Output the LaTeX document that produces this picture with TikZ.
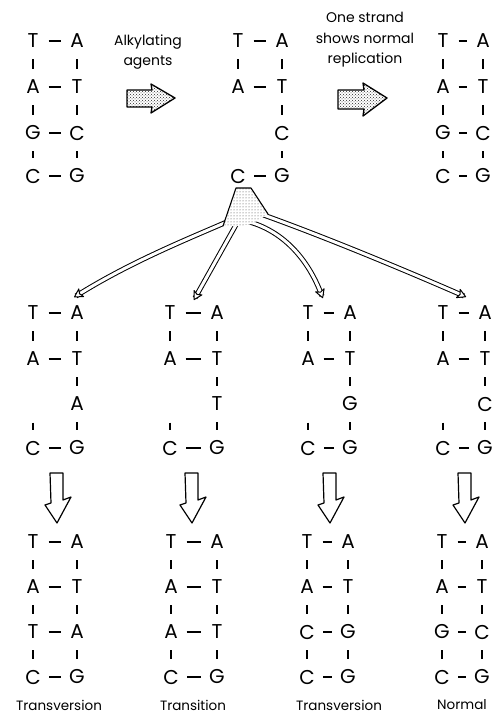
\documentclass[tikz,border=0pt]{standalone}
\usepackage{fontspec}
\setmainfont{Poppins}
\usetikzlibrary{patterns,decorations.markings,calc}
\begin{document}
\begin{tikzpicture}[x=1pt,y=-1pt,
  base/.style={font=\fontsize{20}{24}\selectfont, inner sep=0pt, minimum width=14pt, minimum height=14pt},
  lab/.style={font=\fontsize{14}{20.5}\selectfont, inner sep=0pt, align=center},
  blab/.style={font=\fontsize{13.5}{16}\selectfont, inner sep=0pt},
  hb/.style={line width=1.5pt, shorten <=8.5pt, shorten >=8.5pt},
  tick/.style={line width=1.4pt, shorten <=11pt, shorten >=11pt},
  fat/.style={line width=1.3pt, pattern=crosshatch dots, pattern color=black!85, line join=round},
  hollow/.style={line width=1.2pt, fill=white, line join=round},
  tipmark/.style={postaction={decorate},
    decoration={markings, mark=at position 0.999 with {\draw[line width=1pt, fill=white, line join=round] (2,0) -- (-6,4.5) -- (-4,0) -- (-6,-4.5) -- cycle;}}},
  band/.style={line width=1pt, double=white, double distance=3pt}]
\useasboundingbox (0,0) rectangle (495,717);

% ---------- tier 1 ----------
\foreach \p/\xl/\xr in {pa/33/77, pc/443/483} {
  \foreach \l/\r/\y [count=\i] in {T/A/41, A/T/87, G/C/133, C/G/176} {
    \node[base] (\p L\i) at (\xl,\y) {\l};
    \node[base] (\p R\i) at (\xr,\y) {\r};
    \draw[hb] (\p L\i) -- (\p R\i);
  }
  \foreach \i/\j in {1/2,2/3,3/4} {
    \draw[tick] (\p L\i) -- (\p L\j);
    \draw[tick] (\p R\i) -- (\p R\j);
  }
}
% middle column of tier 1
\node[base] (pbL1) at (238,41) {T}; \node[base] (pbR1) at (282,41) {A};
\node[base] (pbL2) at (238,87) {A}; \node[base] (pbR2) at (282,87) {T};
\node[base] (pbR3) at (282,133) {C};
\node[base] (pbL4) at (238,176) {C}; \node[base] (pbR4) at (282,176) {G};
\draw[hb] (pbL1) -- (pbR1);
\draw[hb] (pbL2) -- (pbR2);
\draw[hb] (pbL4) -- (pbR4);
\draw[tick] (pbL1) -- (pbL2);
\draw[tick] (pbR1) -- (pbR2);
\draw[tick] (pbR2) -- (pbR3);
\draw[tick] (pbR3) -- (pbR4);

% labels and fat arrows
\node[lab] (alk) at (148,52) {Alkylating\\agents};
\node[lab] (one) at (365,40) {One strand\\shows normal\\replication};
\draw[fat] (127,90) -- (152,90) -- (151,84) -- (175,98) -- (151,113) -- (152,107) -- (127,107) -- cycle;
\draw[fat] (338,90) -- (364,90) -- (363,83) -- (387,98) -- (363,116) -- (364,109) -- (338,109) -- cycle;

% ---------- branches ----------
\coordinate (s1) at (229,221);
\coordinate (s2) at (237,223);
\coordinate (s3) at (246,221);
\coordinate (s4) at (258,213);
\coordinate (e1) at (76,296);
\coordinate (e2) at (195,298);
\coordinate (e3) at (322,296);
\coordinate (e4) at (464,296);
\draw[band] (s1) .. controls (190,238) and (130,262) .. (e1);
\draw[band] (s2) -- (e2);
\draw[band] (s3) .. controls (282,230) and (308,258) .. (e3);
\draw[band] (s4) .. controls (320,235) and (400,268) .. (e4);
\path[tipmark] (s1) .. controls (190,238) and (130,262) .. (e1);
\path[tipmark] (s2) -- (e2);
\path[tipmark] (s3) .. controls (282,230) and (308,258) .. (e3);
\path[tipmark] (s4) .. controls (320,235) and (400,268) .. (e4);
\fill[white] (236,188) -- (251,188) -- (268,214) -- (252,224) -- (238,226) -- (223,226) -- cycle;
\fill[pattern=dots, pattern color=black!75] (236,188) -- (251,188) -- (268,214) -- (252,224) -- (238,226) -- (223,226) -- cycle;
\draw[line width=1.1pt, line join=round] (223,226) -- (236,188) -- (251,188) -- (268,214);

% ---------- tier 2 ----------
\foreach \p/\xl/\xr/\m in {ma/33/77/A, mb/170/217/T, mc/308/350/G, md/443/485/C} {
  \node[base] (\p L1) at (\xl,313) {T}; \node[base] (\p R1) at (\xr,313) {A};
  \node[base] (\p L2) at (\xl,359) {A}; \node[base] (\p R2) at (\xr,359) {T};
  \coordinate (\p L3) at (\xl,404);     \node[base] (\p R3) at (\xr,404) {\m};
  \node[base] (\p L4) at (\xl,448) {C}; \node[base] (\p R4) at (\xr,448) {G};
  \draw[hb] (\p L1) -- (\p R1);
  \draw[hb] (\p L2) -- (\p R2);
  \draw[hb] (\p L4) -- (\p R4);
  \draw[tick] (\p L1) -- (\p L2);
  \draw[tick, shorten <=18.5pt] (\p L3) -- (\p L4);
  \draw[tick] (\p R1) -- (\p R2);
  \draw[tick] (\p R2) -- (\p R3);
  \draw[tick] (\p R3) -- (\p R4);
}

% hollow down arrows
\foreach \x in {57,192,330,465} {
  \draw[hollow] (\x-7,473) -- (\x+6,473) -- (\x+6,500) -- (\x+14,497) -- (\x,523) -- (\x-12,505) -- (\x-6,503) -- cycle;
}

% ---------- tier 3 ----------
\foreach \p/\xl/\xr/\a/\b in {ra/33/77/T/A, rb/171/217/A/T, rc/307/348/C/G, rd/442/482/G/C} {
  \foreach \l/\r/\y [count=\i] in {T/A/542, A/T/587, \a/\b/632, C/G/677} {
    \node[base] (\p L\i) at (\xl,\y) {\l};
    \node[base] (\p R\i) at (\xr,\y) {\r};
    \draw[hb] (\p L\i) -- (\p R\i);
  }
  \foreach \i/\j in {1/2,2/3,3/4} {
    \draw[tick] (\p L\i) -- (\p L\j);
    \draw[tick] (\p R\i) -- (\p R\j);
  }
}

% bottom labels
\node[blab] (l1) at (59,705) {Transversion};
\node[blab] (l2) at (193,705) {Transition};
\node[blab] (l3) at (339,705) {Transversion};
\node[blab, anchor=west] (l4) at (437,705) {Normal};
\end{tikzpicture}
\end{document}
